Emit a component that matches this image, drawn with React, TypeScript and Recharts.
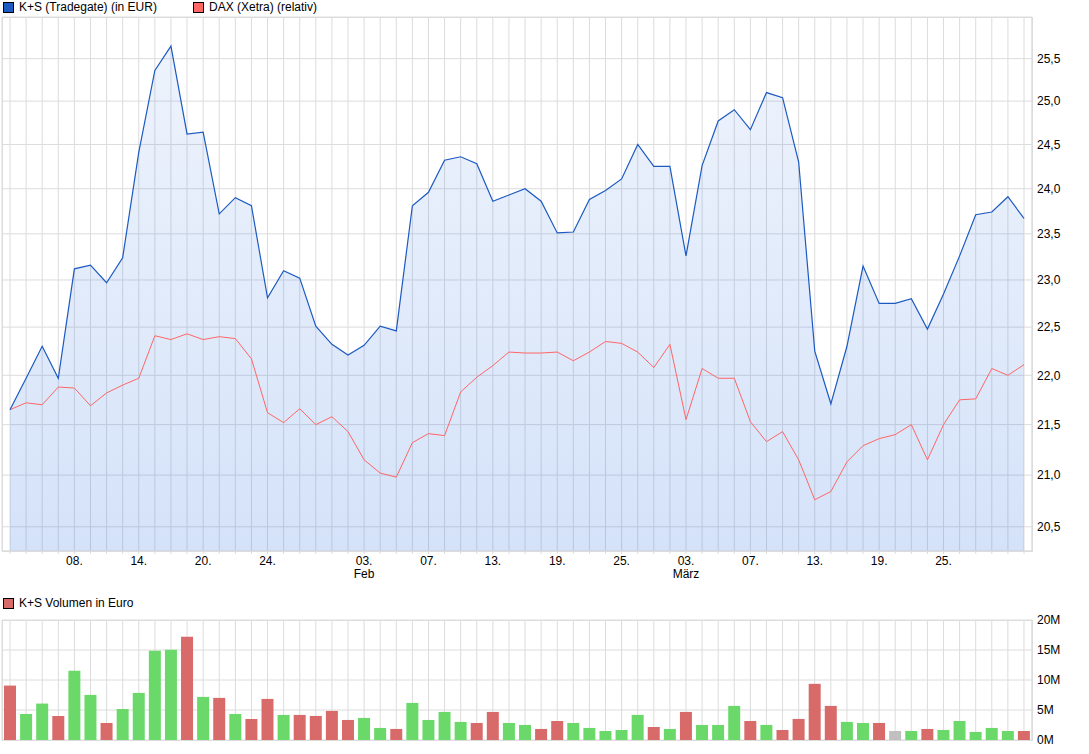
import {
  ComposedChart, Area, Line, BarChart, Bar, Cell, XAxis, YAxis, CartesianGrid,
} from 'recharts'

// trading days 02.01.2014 - 01.04.2014
const days = [
  '02.01', '03.01', '06.01', '07.01', '08.01', '09.01', '10.01', '13.01', '14.01', '15.01',
  '16.01', '17.01', '20.01', '21.01', '22.01', '23.01', '24.01', '27.01', '28.01', '29.01',
  '30.01', '31.01', '03.02', '04.02', '05.02', '06.02', '07.02', '10.02', '11.02', '12.02',
  '13.02', '14.02', '17.02', '18.02', '19.02', '20.02', '21.02', '24.02', '25.02', '26.02',
  '27.02', '28.02', '03.03', '04.03', '05.03', '06.03', '07.03', '10.03', '11.03', '12.03',
  '13.03', '14.03', '17.03', '18.03', '19.03', '20.03', '21.03', '24.03', '25.03', '26.03',
  '27.03', '28.03', '31.03', '01.04',
]

// K+S close (Tradegate, EUR)
const kpsClose = [
  21.65, 21.97, 22.30, 21.97, 23.12, 23.16, 22.97, 23.24, 24.41, 25.36,
  25.65, 24.62, 24.64, 23.72, 23.90, 23.81, 22.81, 23.10, 23.02, 22.51,
  22.32, 22.21, 22.31, 22.51, 22.46, 23.81, 23.96, 24.32, 24.36, 24.28,
  23.86, 23.93, 24.00, 23.86, 23.51, 23.52, 23.88, 23.98, 24.11, 24.50,
  24.25, 24.25, 23.26, 24.26, 24.77, 24.90, 24.67, 25.10, 25.04, 24.30,
  22.25, 21.71, 22.30, 23.15, 22.75, 22.75, 22.80, 22.48, 22.85, 23.26,
  23.71, 23.74, 23.91, 23.67,
]

// DAX relative to K+S start
const daxRel = [
  21.65, 21.72, 21.70, 21.88, 21.87, 21.69, 21.82, 21.90, 21.97, 22.41,
  22.37, 22.43, 22.37, 22.40, 22.38, 22.17, 21.62, 21.52, 21.66, 21.50,
  21.58, 21.43, 21.15, 21.02, 20.98, 21.32, 21.41, 21.39, 21.83, 21.98,
  22.10, 22.24, 22.23, 22.23, 22.24, 22.15, 22.24, 22.35, 22.33, 22.24,
  22.08, 22.32, 21.55, 22.07, 21.97, 21.97, 21.53, 21.33, 21.43, 21.15,
  20.76, 20.84, 21.13, 21.29, 21.36, 21.40, 21.50, 21.15, 21.50, 21.75,
  21.76, 22.07, 22.00, 22.11,
]

// volume in million EUR
const volume = [
  9.07, 4.34, 6.07, 4.01, 11.53, 7.52, 2.84, 5.18, 7.85, 14.87,
  15.04, 17.21, 7.18, 7.02, 4.34, 3.51, 6.85, 4.18, 4.18, 4.01,
  4.85, 3.34, 3.68, 2.01, 1.84, 6.18, 3.34, 4.68, 3.01, 2.84,
  4.68, 2.84, 2.51, 1.84, 3.17, 2.84, 2.01, 1.50, 1.67, 4.18,
  2.17, 1.84, 4.68, 2.51, 2.51, 5.68, 3.17, 2.51, 1.67, 3.51,
  9.36, 5.68, 3.01, 2.84, 2.84, 1.50, 1.50, 1.84, 1.67, 3.17,
  1.34, 2.01, 1.50, 1.50,
]

// u = up day, d = down day, f = unchanged
const volDir = [
  'd', 'u', 'u', 'd', 'u', 'u', 'd', 'u', 'u', 'u',
  'u', 'd', 'u', 'd', 'u', 'd', 'd', 'u', 'd', 'd',
  'd', 'd', 'u', 'u', 'd', 'u', 'u', 'u', 'u', 'd',
  'd', 'u', 'u', 'd', 'd', 'u', 'u', 'u', 'u', 'u',
  'd', 'u', 'd', 'u', 'u', 'u', 'd', 'u', 'd', 'd',
  'd', 'd', 'u', 'u', 'd', 'f', 'u', 'd', 'u', 'u',
  'u', 'u', 'u', 'd',
]

const labeledDays = [
  '08.01', '14.01', '20.01', '24.01', '03.02', '07.02', '13.02', '19.02', '25.02',
  '03.03', '07.03', '13.03', '19.03', '25.03',
]
const monthNames: Record<string, string> = { '03.02': 'Feb', '03.03': 'März' }

const priceTicks = [20.5, 21, 21.5, 22, 22.5, 23, 23.5, 24, 24.5, 25, 25.5]
const volumeTicks = [0, 5, 10, 15, 20]

const dirColors: Record<string, string> = { u: '#6ad96a', d: '#d96a6a', f: '#c0c0c0' }

const priceData = days.map((day, i) => ({ day, kps: kpsClose[i], dax: daxRel[i] }))
const volumeData = days.map((day, i) => ({ day, vol: volume[i], dir: volDir[i] }))

const FONT = '"Liberation Sans", Arial, sans-serif'
const GRID = '#dcdcdc'

function DayTick(props: any) {
  const { x, y, payload } = props
  const d = payload.value as string
  if (!labeledDays.includes(d)) return null
  const month = monthNames[d]
  return (
    <text x={x} y={y} textAnchor="middle" fontSize={12} fontFamily={FONT} fill="#000">
      <tspan x={x} dy="0.71em">{d.slice(0, 2) + '.'}</tspan>
      {month && <tspan x={x} dy="1.1em">{month}</tspan>}
    </text>
  )
}

function LegendItem({ color, label, left, top }: { color: string; label: string; left: number; top: number }) {
  return (
    <div style={{ position: 'absolute', left, top, display: 'flex', alignItems: 'center', whiteSpace: 'nowrap' }}>
      <span style={{ width: 9, height: 9, background: color, border: '1px solid #000', display: 'inline-block' }} />
      <span style={{ marginLeft: 5, fontSize: 12, lineHeight: '14px' }}>{label}</span>
    </div>
  )
}

export default function App() {
  return (
    <div style={{ position: 'absolute', left: 0, top: 0, width: 1089, height: 754, fontFamily: FONT, background: '#fff', color: '#000' }}>
      <LegendItem color="#1c5ac2" label="K+S (Tradegate) (in EUR)" left={3} top={0} />
      <LegendItem color="#ff6666" label="DAX (Xetra) (relativ)" left={193} top={0} />

      <div style={{ position: 'absolute', left: 0, top: 0 }}>
        <ComposedChart width={1089} height={582} data={priceData} margin={{ top: 17, right: 0, left: 2, bottom: 7 }}>
          <defs>
            <linearGradient id="kpsFill" x1="0" y1="0" x2="0" y2="1">
              <stop offset="0%" stopColor="#2a6fe0" stopOpacity={0.08} />
              <stop offset="100%" stopColor="#2a6fe0" stopOpacity={0.2} />
            </linearGradient>
          </defs>
          <CartesianGrid stroke={GRID} />
          <XAxis
            dataKey="day"
            interval={0}
            padding={{ left: 8, right: 8 }}
            height={24}
            tick={<DayTick />}
            tickSize={3}
            tickMargin={2}
            tickLine={{ stroke: GRID }}
            axisLine={{ stroke: GRID }}
          />
          <YAxis
            orientation="right"
            type="number"
            scale="log"
            domain={[20.27, 26.0]}
            allowDataOverflow
            ticks={priceTicks}
            tickFormatter={(v: number) => v.toFixed(1).replace('.', ',')}
            width={57}
            tickLine={false}
            tickSize={3}
            tickMargin={2}
            axisLine={{ stroke: GRID }}
            tick={{ fontSize: 12, fill: '#000', fontFamily: FONT }}
          />
          <Area
            type="linear"
            dataKey="kps"
            stroke="none"
            fill="url(#kpsFill)"
            fillOpacity={1}
            baseValue="dataMin"
            isAnimationActive={false}
          />
          <Line type="linear" dataKey="dax" stroke="#ff6666" strokeWidth={1} dot={false} isAnimationActive={false} />
          <Line type="linear" dataKey="kps" stroke="#1c5ac2" strokeWidth={1.2} dot={false} isAnimationActive={false} />
        </ComposedChart>
      </div>
      <div style={{ position: 'absolute', left: 2, top: 17, width: 1029, height: 533, border: `1px solid ${GRID}`, pointerEvents: 'none' }} />

      <LegendItem color="#d96a6a" label="K+S Volumen in Euro" left={3} top={596} />

      <div style={{ position: 'absolute', left: 0, top: 600 }}>
        <BarChart width={1089} height={154} data={volumeData} margin={{ top: 20, right: 0, left: 2, bottom: 14 }} barCategoryGap={4}>
          <CartesianGrid stroke={GRID} />
          <XAxis dataKey="day" hide interval={0} />
          <YAxis
            orientation="right"
            type="number"
            domain={[0, 20]}
            ticks={volumeTicks}
            tickFormatter={(v: number) => `${v}M`}
            width={57}
            tickLine={false}
            tickSize={3}
            tickMargin={2}
            axisLine={{ stroke: GRID }}
            tick={{ fontSize: 12, fill: '#000', fontFamily: FONT }}
          />
          <Bar dataKey="vol" barSize={12} isAnimationActive={false}>
            {volumeData.map((d, i) => (
              <Cell key={i} fill={dirColors[d.dir]} />
            ))}
          </Bar>
        </BarChart>
      </div>
      <div style={{ position: 'absolute', left: 2, top: 620, width: 1029, height: 119, border: `1px solid ${GRID}`, pointerEvents: 'none' }} />
    </div>
  )
}
